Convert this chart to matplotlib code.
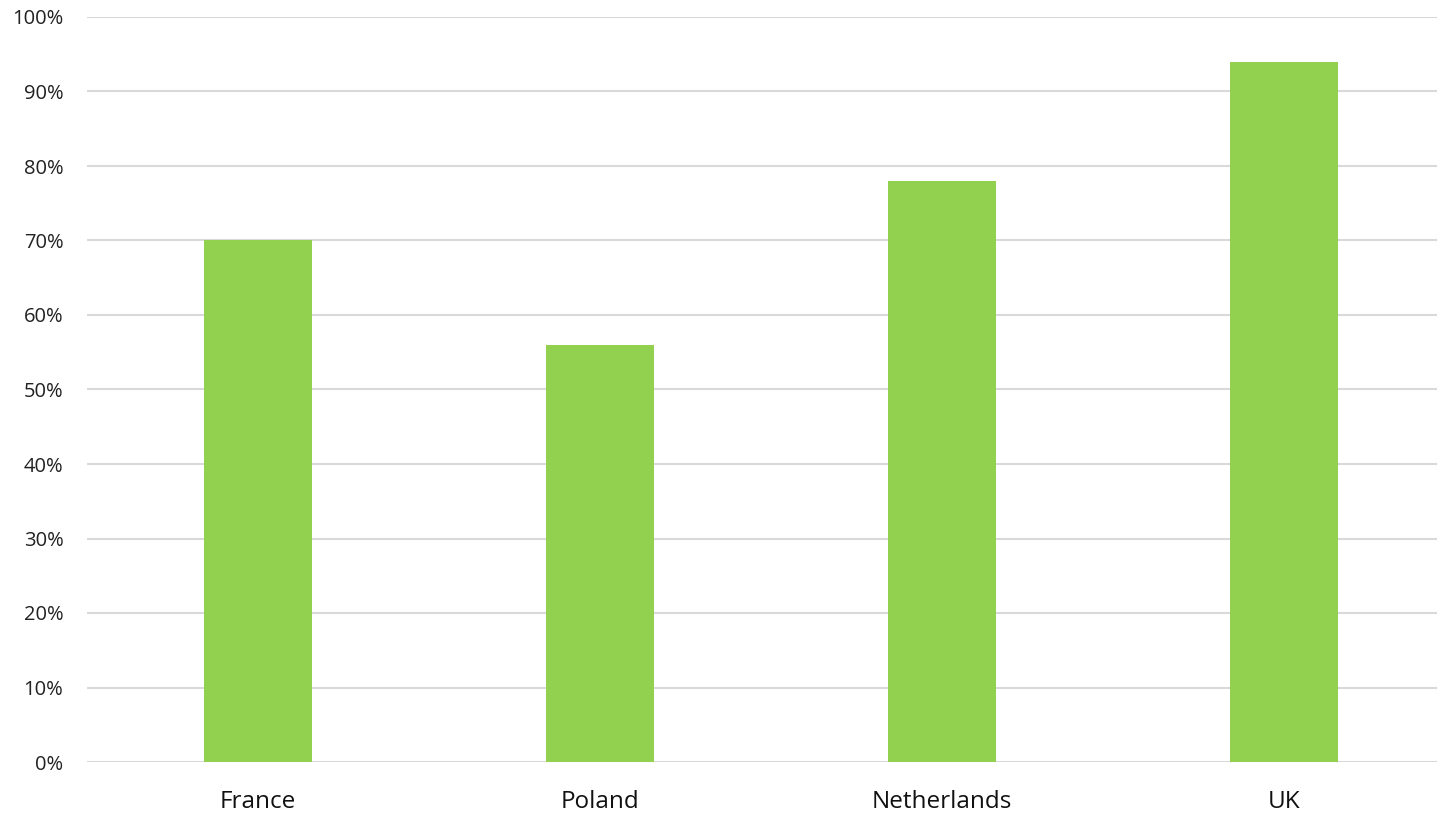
import matplotlib.pyplot as plt
from matplotlib.ticker import PercentFormatter

countries = ["France", "Poland", "Netherlands", "UK"]
shares = [70, 56, 78, 94]

W, H = 1437, 813
fig = plt.figure(figsize=(W / 100, H / 100), dpi=100)
ax = fig.add_axes([87 / W, 1 - 762 / H, 1 - 87 / W, (762 - 17) / H])

ax.bar(range(len(countries)), shares, width=0.313, color="#92D050", zorder=2)

ax.set_ylim(0, 100)
ax.set_xlim(-0.5, 3.5 - (1455 - 1437) / 342)
ax.set_yticks(range(0, 101, 10))
ax.yaxis.set_major_formatter(PercentFormatter(decimals=0))
ax.set_xticks(range(len(countries)))
ax.set_xticklabels(countries)

ax.grid(axis="y", color="#D9D9D9", linewidth=1.5, zorder=0)
ax.set_axisbelow(True)
for s in ax.spines.values():
    s.set_visible(False)
ax.tick_params(length=0)
ax.tick_params(axis="y", pad=17, labelsize=14.5, labelcolor="#222222")
ax.tick_params(axis="x", pad=20, labelsize=17.5, labelcolor="#111111")
for lbl in ax.get_xticklabels() + ax.get_yticklabels():
    lbl.set_fontfamily("Open Sans")

fig.savefig("out.png", dpi=100)
